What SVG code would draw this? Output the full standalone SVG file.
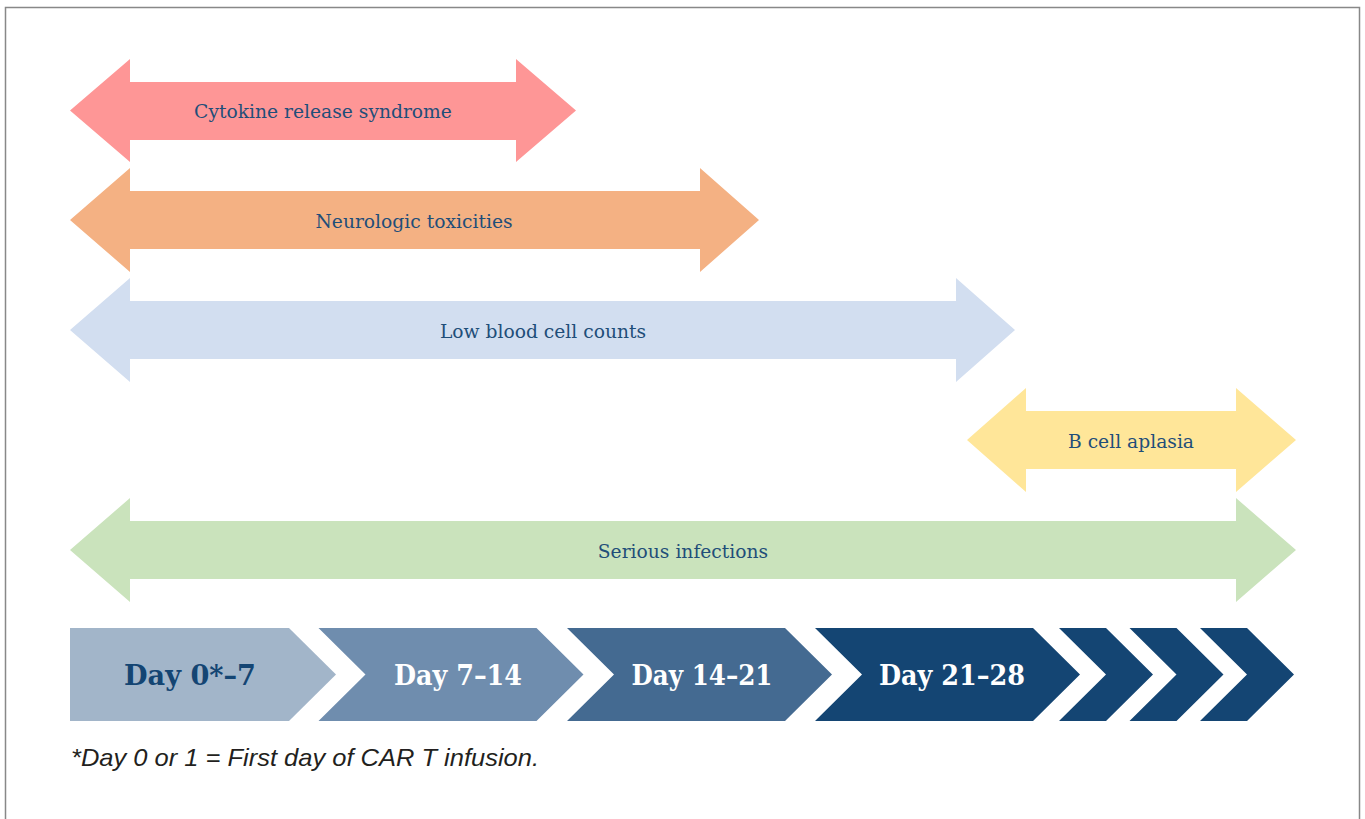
<svg xmlns="http://www.w3.org/2000/svg" width="1365" height="819" viewBox="0 0 1365 819">
<style>
.lbl{font-family:"DejaVu Serif","Liberation Serif",serif;font-size:18.7px;fill:#1F4E79;text-anchor:middle;dominant-baseline:central}
.day{font-family:"DejaVu Serif","Liberation Serif",serif;font-size:28px;font-weight:bold;fill:#fff;text-anchor:middle}
.note{font-family:"Liberation Sans",Arial,sans-serif;font-size:24px;font-style:italic;fill:#231F20}
</style>
<rect x="5.5" y="7.5" width="1354" height="830" fill="#fff" stroke="#888" stroke-width="1.5"/>
<g id="arrows">
<g id="crs"><path d="M70,110.5 L130,59 V82 H516 V59 L576,110.5 L516,162 V140 H130 V162 Z" fill="#FE9696"/><text class="lbl" x="323" y="111">Cytokine release syndrome</text></g>
<g id="neuro"><path d="M70,220 L130,168 V191 H700 V168 L759,220 L700,272 V249 H130 V272 Z" fill="#F4B183"/><text class="lbl" x="414" y="221">Neurologic toxicities</text></g>
<g id="lowblood"><path d="M70,330 L130,278 V301 H956 V278 L1015,330 L956,382 V359 H130 V382 Z" fill="#D2DEF0"/><text class="lbl" x="543" y="331">Low blood cell counts</text></g>
<g id="bcell"><path d="M967,440 L1026,388 V411 H1236 V388 L1296,440 L1236,492 V469 H1026 V492 Z" fill="#FFE699"/><text class="lbl" x="1131" y="441">B cell aplasia</text></g>
<g id="infections"><path d="M70,550 L130,498 V521 H1236 V498 L1296,550 L1236,602 V579 H130 V602 Z" fill="#CAE3BC"/><text class="lbl" x="683" y="551">Serious infections</text></g>
</g>
<g id="timeline">
<g id="d1"><path d="M70,628 H289 L336,674.5 L289,721 H70 Z" fill="#A2B5C9"/><text class="day" x="190" y="685" style="fill:#144573" textLength="132" lengthAdjust="spacingAndGlyphs">Day 0*–7</text></g>
<g id="d2"><path d="M318.5,628 H536.5 L583.5,674.5 L536.5,721 H318.5 L365.5,674.5 Z" fill="#6F8DAE"/><text class="day" x="458" y="685" textLength="128" lengthAdjust="spacingAndGlyphs">Day 7–14</text></g>
<g id="d3"><path d="M567,628 H785 L832,674.5 L785,721 H567 L614,674.5 Z" fill="#446A91"/><text class="day" x="702" y="685" textLength="141" lengthAdjust="spacingAndGlyphs">Day 14–21</text></g>
<g id="d4"><path d="M815,628 H1033 L1080,674.5 L1033,721 H815 L862,674.5 Z" fill="#144573"/><text class="day" x="952" y="685" textLength="146" lengthAdjust="spacingAndGlyphs">Day 21–28</text></g>
<g id="c5"><path d="M1059,628 H1106 L1153,674.5 L1106,721 H1059 L1106,674.5 Z" fill="#144573"/></g>
<g id="c6"><path d="M1129.5,628 H1176.5 L1223.5,674.5 L1176.5,721 H1129.5 L1176.5,674.5 Z" fill="#144573"/></g>
<g id="c7"><path d="M1200,628 H1247 L1294,674.5 L1247,721 H1200 L1247,674.5 Z" fill="#144573"/></g>
</g>
<text class="note" x="71" y="766" textLength="468" lengthAdjust="spacingAndGlyphs">*Day 0 or 1 = First day of CAR T infusion.</text>
</svg>
